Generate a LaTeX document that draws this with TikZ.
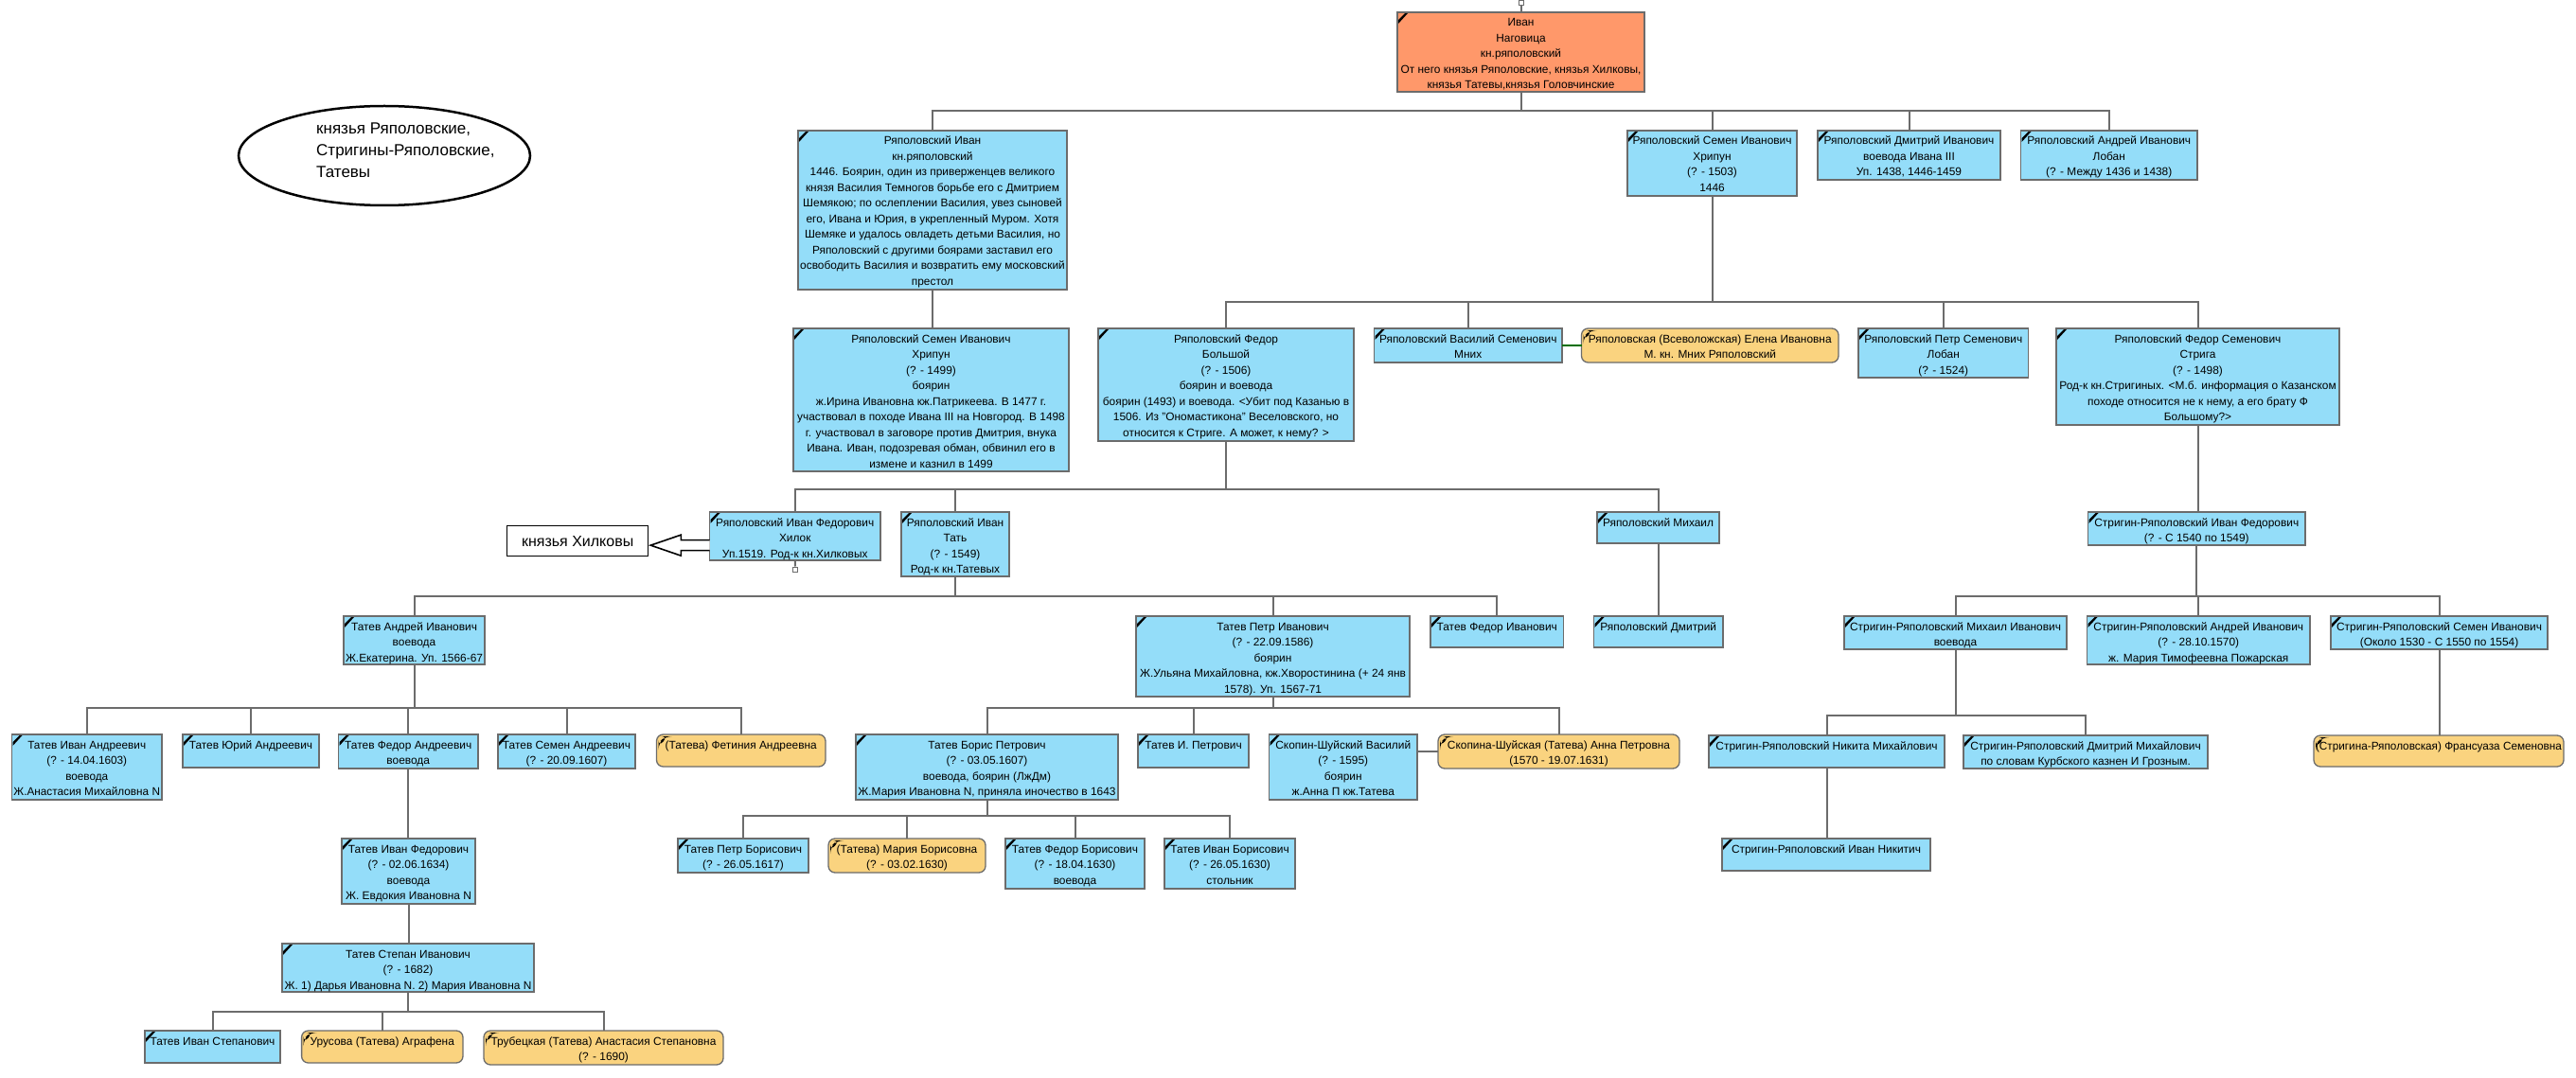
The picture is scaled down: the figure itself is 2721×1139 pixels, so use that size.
\documentclass[tikz,border=0pt]{standalone}
\usepackage{fontspec}
\usepackage{graphicx}
\setmainfont{Liberation Sans}
\usetikzlibrary{calc,shapes.geometric}
\definecolor{bluefill}{RGB}{148,221,249}
\definecolor{orangefill}{RGB}{250,211,127}
\definecolor{rootfill}{RGB}{255,152,106}
\definecolor{edgegray}{RGB}{108,108,108}
\definecolor{linkgreen}{RGB}{0,110,0}
\newsavebox\tbox
\newlength\maxw
\newcommand\bx[3]{%
  \sbox\tbox{\begin{tabular}{@{}c@{}}#3\end{tabular}}%
  \setlength\maxw{#1pt}\addtolength\maxw{-4pt}%
  \ifdim\wd\tbox>\maxw \sbox\tbox{\resizebox{\maxw}{\height}{\usebox\tbox}}\fi
  \parbox[c][#2pt][t]{#1pt}{\vspace*{3.45pt}\centering\usebox\tbox\par}}
\tikzset{
  pmark/.style={path picture={\fill[black]
     ([shift={(1,12)}]path picture bounding box.north west) --
     ([shift={(1,8)}]path picture bounding box.north west) --
     ([shift={(8,1)}]path picture bounding box.north west) --
     ([shift={(11,1)}]path picture bounding box.north west) -- cycle;}},
  wmark/.style={path picture={\fill[black]
     ([shift={(2,13)}]path picture bounding box.north west) --
     ([shift={(2,9)}]path picture bounding box.north west) --
     ([shift={(9,2)}]path picture bounding box.north west) --
     ([shift={(12,2)}]path picture bounding box.north west) -- cycle;}},
  person/.style={draw=edgegray, line width=1.3pt, fill=bluefill, inner sep=0pt,
     outer sep=0pt, anchor=north west, font=\fontsize{11.9}{16.5}\selectfont, pmark},
  wife/.style={draw=edgegray, line width=1.3pt, fill=orangefill, rounded corners=7pt,
     inner sep=0pt, outer sep=0pt, anchor=north west, font=\fontsize{11.9}{16.5}\selectfont, wmark},
  rootbox/.style={person, fill=rootfill},
  conn/.style={draw=edgegray, line width=2pt},
  hollowarrow/.style={draw=black, fill=white, line width=1.6pt, line join=miter},
  tinysq/.style={draw=edgegray, fill=white, line width=1pt, minimum size=5pt, inner sep=0pt}
}
\begin{document}
\begin{tikzpicture}[x=1pt,y=-1pt]
\fill[white] (0,0) rectangle (2721,1139);
\useasboundingbox (0,0) rectangle (2721,1139);

% legend ellipse
\node[draw=black, line width=2.5pt, ellipse, minimum width=308pt, minimum height=105pt, inner sep=0pt] (ell) at (406,164.5) {};
\node[anchor=north west, align=left, inner sep=0pt, font=\fontsize{17}{23}\selectfont] (elltext) at (334,129.5) {князья Ряполовские,\\Стригины-Ряполовские,\\Татевы};

% root
\node[rootbox] (R) at (1476,13) {\bx{261}{84}{Иван\\Наговица\\кн.ряполовский\\От него князья Ряполовские, князья Хилковы,\\князья Татевы,князья Головчинские}};
\node[tinysq] (rtop) at (1606.5,3.5) {};

% row 2
\node[person] (A1) at (843,138) {\bx{284}{168}{Ряполовский Иван\\кн.ряполовский\\1446. Боярин, один из приверженцев великого\\князя Василия Темногов борьбе его с Дмитрием\\Шемякою; по ослеплении Василия, увез сыновей\\его, Ивана и Юрия, в укрепленный Муром. Хотя\\Шемяке и удалось овладеть детьми Василия, но\\Ряполовский с другими боярами заставил его\\освободить Василия и возвратить ему московский\\престол}};
\node[person] (A2) at (1719,138) {\bx{179}{69}{Ряполовский Семен Иванович\\Хрипун\\(? - 1503)\\1446}};
\node[person] (A3) at (1920,138) {\bx{193}{52}{Ряполовский Дмитрий Иванович\\воевода Ивана III\\Уп. 1438, 1446-1459}};
\node[person] (A4) at (2134.5,138) {\bx{186.5}{52}{Ряполовский Андрей Иванович\\Лобан\\(? - Между 1436 и 1438)}};

% row 3
\node[person] (B1) at (838,347) {\bx{291}{151}{Ряполовский Семен Иванович\\Хрипун\\(? - 1499)\\боярин\\ж.Ирина Ивановна кж.Патрикеева. В 1477 г.\\участвовал в походе Ивана III на Новгород. В 1498\\г. участвовал в заговоре против Дмитрия, внука\\Ивана. Иван, подозревая обман, обвинил его в\\измене и казнил в 1499}};
\node[person] (B2) at (1160,347) {\bx{270}{119}{Ряполовский Федор\\Большой\\(? - 1506)\\боярин и воевода\\боярин (1493) и воевода. <Убит под Казанью в\\1506. Из "Ономастикона" Веселовского, но\\относится к Стриге. А может, к нему? >}};
\node[person] (B3) at (1451.5,347) {\bx{198.5}{36}{Ряполовский Василий Семенович\\Мних}};
\node[wife] (B4) at (1670.5,347) {\bx{271.5}{36}{Ряполовская (Всеволожская) Елена Ивановна\\М. кн. Мних Ряполовский}};
\node[person] (B5) at (1963,347) {\bx{179.5}{52}{Ряполовский Петр Семенович\\Лобан\\(? - 1524)}};
\node[person] (B6) at (2172,347) {\bx{299}{102}{Ряполовский Федор Семенович\\Стрига\\(? - 1498)\\Род-к кн.Стригиных. <М.б. информация о Казанском\\походе относится не к нему, а его брату Ф\\Большому?>}};

% row 4
\node[draw=black, line width=1.3pt, fill=white, minimum width=149pt, minimum height=32pt, inner sep=0pt, anchor=north west, font=\fontsize{16}{18}\selectfont] (hilk) at (535,555) {князья Хилковы};
\node[person] (C1) at (749.5,541) {\bx{180.5}{51}{Ряполовский Иван Федорович\\Хилок\\Уп.1519. Род-к кн.Хилковых}};
\node[tinysq] (c1sq) at (840,601.5) {};
\node[person] (C2) at (952,541) {\bx{114}{68}{Ряполовский Иван\\Тать\\(? - 1549)\\Род-к кн.Татевых}};
\node[person] (C3) at (1687,541) {\bx{129}{33}{Ряполовский Михаил}};
\node[person] (C4) at (2205.5,541) {\bx{229.5}{35}{Стригин-Ряполовский Иван Федорович\\(? - С 1540 по 1549)}};

% row 5
\node[person] (T1) at (363,651) {\bx{149}{51}{Татев Андрей Иванович\\воевода\\Ж.Екатерина. Уп. 1566-67}};
\node[person] (T2) at (1200,651) {\bx{289}{85}{Татев Петр Иванович\\(? - 22.09.1586)\\боярин\\Ж.Ульяна Михайловна, кж.Хворостинина (+ 24 янв\\1578). Уп. 1567-71}};
\node[person] (T3) at (1511,651) {\bx{140.5}{33}{Татев Федор Иванович}};
\node[person] (M1) at (1683.5,651) {\bx{136.5}{33}{Ряполовский Дмитрий}};
\node[person] (S1) at (1948,651) {\bx{235}{35}{Стригин-Ряполовский Михаил Иванович\\воевода}};
\node[person] (S2) at (2204.5,651) {\bx{235.5}{51}{Стригин-Ряполовский Андрей Иванович\\(? - 28.10.1570)\\ж. Мария Тимофеевна Пожарская}};
\node[person] (S3) at (2462,651) {\bx{229}{35}{Стригин-Ряполовский Семен Иванович\\(Около 1530 - С 1550 по 1554)}};

% row 6
\node[person] (U1) at (12.5,776) {\bx{158.5}{69}{Татев Иван Андреевич\\(? - 14.04.1603)\\воевода\\Ж.Анастасия Михайловна N}};
\node[person] (U2) at (193,776) {\bx{144}{35}{Татев Юрий Андреевич}};
\node[person] (U3) at (357.5,776) {\bx{147.5}{36}{Татев Федор Андреевич\\воевода}};
\node[person] (U4) at (526,776) {\bx{145}{36}{Татев Семен Андреевич\\(? - 20.09.1607)}};
\node[wife] (U5) at (693.5,776) {\bx{178.5}{34}{(Татева) Фетиния Андреевна}};
\node[person] (U6) at (904,776) {\bx{277}{69}{Татев Борис Петрович\\(? - 03.05.1607)\\воевода, боярин (ЛжДм)\\Ж.Мария Ивановна N, приняла иночество в 1643}};
\node[person] (U7) at (1202,776) {\bx{117}{35}{Татев И. Петрович}};
\node[person] (U8) at (1340.5,776) {\bx{156.5}{69}{Скопин-Шуйский Василий\\(? - 1595)\\боярин\\ж.Анна П кж.Татева}};
\node[wife] (U9) at (1519,776) {\bx{255}{36}{Скопина-Шуйская (Татева) Анна Петровна\\(1570 - 19.07.1631)}};
\node[person] (S4) at (1805,777) {\bx{249}{34}{Стригин-Ряполовский Никита Михайлович}};
\node[person] (S5) at (2074,777) {\bx{258}{35}{Стригин-Ряполовский Дмитрий Михайлович\\по словам Курбского казнен И Грозным.}};
\node[wife] (S7) at (2444,777) {\bx{264}{33}{(Стригина-Ряполовская) Франсуаза Семеновна}};

% row 7
\node[person] (V1) at (361,886) {\bx{141}{69}{Татев Иван Федорович\\(? - 02.06.1634)\\воевода\\Ж. Евдокия Ивановна N}};
\node[person] (V2) at (716,886) {\bx{138}{36}{Татев Петр Борисович\\(? - 26.05.1617)}};
\node[wife] (V3) at (875,886) {\bx{166}{36}{(Татева) Мария Борисовна\\(? - 03.02.1630)}};
\node[person] (V4) at (1062,886) {\bx{147}{53}{Татев Федор Борисович\\(? - 18.04.1630)\\воевода}};
\node[person] (V5) at (1230,886) {\bx{138}{53}{Татев Иван Борисович\\(? - 26.05.1630)\\стольник}};
\node[person] (S6) at (1819,886) {\bx{220}{34}{Стригин-Ряполовский Иван Никитич}};

% row 8-9
\node[person] (V6) at (298,997) {\bx{266}{51}{Татев Степан Иванович\\(? - 1682)\\Ж. 1) Дарья Ивановна N. 2) Мария Ивановна N}};
\node[person] (W1) at (153,1089) {\bx{143}{34}{Татев Иван Степанович}};
\node[wife] (W2) at (318.6,1089) {\bx{170.4}{34}{Урусова (Татева) Аграфена}};
\node[wife] (W3) at (511,1089) {\bx{253}{36}{Трубецкая (Татева) Анастасия Степановна\\(? - 1690)}};

% bus coordinates
\coordinate (bus0) at (0,117);
\coordinate (bus1) at (0,319);
\coordinate (bus2) at (0,517);
\coordinate (bus3) at (0,630);
\coordinate (bus5) at (0,748);
\coordinate (bus7) at (0,756);
\coordinate (bus8) at (0,862);
\coordinate (bus9) at (0,1069);

% connectors
\draw[conn] (rtop.south) -- (R.north);
\draw[conn] (R.south) -- (R.south |- bus0);
\draw[conn] (A1.north) |- (A4.north |- bus0) -- (A4.north);
\draw[conn] (A2.north) -- (A2.north |- bus0);
\draw[conn] (A3.north) -- (A3.north |- bus0);

\draw[conn] (A1.south) -- (A1.south |- B1.north);

\draw[conn] (A2.south) -- (A2.south |- bus1);
\draw[conn] (B2.north) |- (B6.north |- bus1) -- (B6.north);
\draw[conn] (B3.north) -- (B3.north |- bus1);
\draw[conn] (B5.north) -- (B5.north |- bus1);
\draw[draw=linkgreen, line width=2pt] (B3.east) -- (B4.west);

\draw[conn] (B2.south) -- (B2.south |- bus2);
\draw[conn] (C1.north) |- (C3.north |- bus2) -- (C3.north);
\draw[conn] (C2.north) -- (C2.north |- bus2);
\draw[conn] (C1.south) -- (c1sq.north);

\draw[conn] (B6.south) -- (B6.south |- C4.north);

\draw[conn] (C2.south) -- (C2.south |- bus3);
\draw[conn] (T1.north) |- (T3.north |- bus3) -- (T3.north);
\draw[conn] (T2.north) -- (T2.north |- bus3);
\draw[conn] (C3.south) -- (C3.south |- M1.north);

\draw[conn] (C4.south) -- (C4.south |- bus3);
\draw[conn] (S1.north) |- (S3.north |- bus3) -- (S3.north);
\draw[conn] (S2.north) -- (S2.north |- bus3);

\draw[conn] (T1.south) -- (T1.south |- bus5);
\draw[conn] (U1.north) |- (U5.north |- bus5) -- (U5.north);
\draw[conn] (U2.north) -- (U2.north |- bus5);
\draw[conn] (U3.north) -- (U3.north |- bus5);
\draw[conn] (U4.north) -- (U4.north |- bus5);

\draw[conn] (T2.south) -- (T2.south |- bus5);
\draw[conn] (U6.north) |- (U9.north |- bus5) -- (U9.north);
\draw[conn] (U7.north) -- (U7.north |- bus5);
\draw[conn] (U9.west) -- (U9.west -| U8.east);

\draw[conn] (S1.south) -- (S1.south |- bus7);
\draw[conn] (S4.north) |- (S5.north |- bus7) -- (S5.north);
\draw[conn] (S3.south) -- (S3.south |- S7.north);
\draw[conn] (S4.south) -- (S4.south |- S6.north);

\draw[conn] (U3.south) -- (U3.south |- V1.north);
\draw[conn] (U6.south) -- (U6.south |- bus8);
\draw[conn] (V2.north) |- (V5.north |- bus8) -- (V5.north);
\draw[conn] (V3.north) -- (V3.north |- bus8);
\draw[conn] (V4.north) -- (V4.north |- bus8);

\draw[conn] (V1.south) -- (V1.south |- V6.north);
\draw[conn] (V6.south) -- (V6.south |- bus9);
\draw[conn] (W1.north) |- (W3.north |- bus9) -- (W3.north);
\draw[conn] (W2.north) -- (W2.north |- bus9);

% hollow arrow from C1 to Khilkov box
\coordinate (atip) at ($(hilk.east)+(2,4.5)$);
\coordinate (abase) at (C1.west |- atip);
\draw[hollowarrow] ($(abase)+(0,-5.5)$) -- ($(atip)+(32,-5.5)$) -- ($(atip)+(32,-11)$) -- (atip) -- ($(atip)+(32,11)$) -- ($(atip)+(32,5.5)$) -- ($(abase)+(0,5.5)$);
\end{tikzpicture}
\end{document}
